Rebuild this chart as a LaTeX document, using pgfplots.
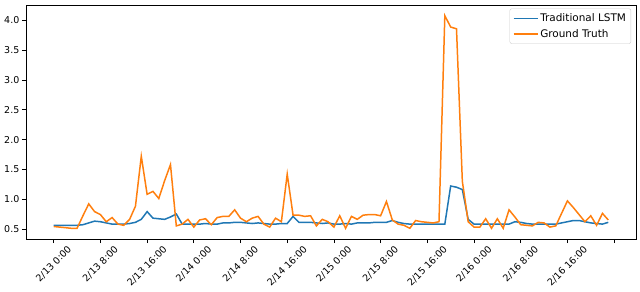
\documentclass[border=0pt]{standalone}
\usepackage{fontspec}
\setmainfont{DejaVu Sans}
\usepackage{graphicx}
\usepackage{pgfplots}
\pgfplotsset{compat=1.18}
\definecolor{mplblue}{HTML}{1F77B4}
\definecolor{mplorange}{HTML}{FF7F0E}
\begin{document}
\begin{tikzpicture}
\path[use as bounding box] (-26bp,-53bp) rectangle (614bp,239bp);
\begin{axis}[
  at={(0,0)}, anchor=south west,
  scale only axis,
  width=610bp, height=234bp,
  xmin=-4.75, xmax=99.75,
  ymin=0.33, ymax=4.26,
  axis line style={line width=0.9pt},
  tick align=outside,
  xtick pos=bottom, ytick pos=left,
  major tick length=4bp,
  tick style={black, line width=0.7pt},
  xtick={0,8,16,24,32,40,48,56,64,72,80,88,96},
  xticklabels={\rotatebox{45}{2/13 0:00},\rotatebox{45}{2/13 8:00},\rotatebox{45}{2/13 16:00},\rotatebox{45}{2/14 0:00},\rotatebox{45}{2/14 8:00},\rotatebox{45}{2/14 16:00},\rotatebox{45}{2/15 0:00},\rotatebox{45}{2/15 8:00},\rotatebox{45}{2/15 16:00},\rotatebox{45}{2/16 0:00},\rotatebox{45}{2/16 8:00},\rotatebox{45}{2/16 16:00},{}},
  xticklabel style={anchor=north, font=\fontsize{9.5}{11}\selectfont, inner sep=2bp},
  ytick={0.5,1.0,1.5,2.0,2.5,3.0,3.5,4.0},
  yticklabel style={font=\fontsize{9.5}{11}\selectfont, inner sep=2.5bp},
  /pgf/number format/assume math mode=true,
  /pgf/number format/fixed, /pgf/number format/fixed zerofill, /pgf/number format/precision=1,
  legend style={at={(0.992,0.985)}, anchor=north east, draw=black!20, rounded corners=2pt,
    font=\fontsize{10.5}{12}\selectfont, row sep=2pt, inner sep=3pt},
  legend cell align=left,
  legend image code/.code={\draw[#1] (0bp,0bp) -- (24bp,0bp);},
]
\addplot[mplblue, line width=1.5pt] coordinates {
(0,0.56)(1,0.56)(2,0.56)(3,0.56)(4,0.56)(5,0.57)(6,0.60)(7,0.63)(8,0.62)(9,0.60)
(10,0.58)(11,0.58)(12,0.58)(13,0.59)(14,0.61)(15,0.66)(16,0.79)(17,0.68)(18,0.67)(19,0.66)
(20,0.70)(21,0.75)(22,0.58)(23,0.58)(24,0.58)(25,0.58)(26,0.59)(27,0.58)(28,0.58)(29,0.60)
(30,0.60)(31,0.61)(32,0.61)(33,0.60)(34,0.59)(35,0.60)(36,0.59)(37,0.58)(38,0.58)(39,0.59)
(40,0.59)(41,0.71)(42,0.61)(43,0.61)(44,0.61)(45,0.60)(46,0.59)(47,0.60)(48,0.58)(49,0.58)
(50,0.59)(51,0.58)(52,0.60)(53,0.60)(54,0.60)(55,0.61)(56,0.61)(57,0.61)(58,0.64)(59,0.61)
(60,0.59)(61,0.58)(62,0.58)(63,0.58)(64,0.58)(65,0.58)(66,0.58)(67,0.58)(68,1.22)(69,1.20)
(70,1.16)(71,0.66)(72,0.58)(73,0.58)(74,0.58)(75,0.58)(76,0.58)(77,0.58)(78,0.58)(79,0.62)
(80,0.61)(81,0.59)(82,0.58)(83,0.58)(84,0.58)(85,0.58)(86,0.58)(87,0.60)(88,0.62)(89,0.64)
(90,0.64)(91,0.62)(92,0.60)(93,0.59)(94,0.58)(95,0.61)
};
\addlegendentry{Traditional LSTM}
\addplot[mplorange, line width=1.5pt] coordinates {
(0,0.54)(1,0.53)(2,0.52)(3,0.51)(4,0.51)(5,0.72)(6,0.92)(7,0.79)(8,0.74)(9,0.62)
(10,0.69)(11,0.58)(12,0.56)(13,0.66)(14,0.88)(15,1.72)(16,1.08)(17,1.13)(18,1.01)(19,1.31)
(20,1.58)(21,0.55)(22,0.58)(23,0.66)(24,0.53)(25,0.65)(26,0.67)(27,0.57)(28,0.69)(29,0.71)
(30,0.71)(31,0.82)(32,0.68)(33,0.62)(34,0.68)(35,0.71)(36,0.58)(37,0.53)(38,0.68)(39,0.62)
(40,1.42)(41,0.73)(42,0.73)(43,0.71)(44,0.72)(45,0.55)(46,0.66)(47,0.62)(48,0.53)(49,0.72)
(50,0.51)(51,0.71)(52,0.66)(53,0.73)(54,0.74)(55,0.74)(56,0.72)(57,0.96)(58,0.65)(59,0.58)
(60,0.56)(61,0.51)(62,0.64)(63,0.62)(64,0.61)(65,0.60)(66,0.62)(67,4.08)(68,3.89)(69,3.86)
(70,1.30)(71,0.62)(72,0.53)(73,0.53)(74,0.67)(75,0.51)(76,0.67)(77,0.51)(78,0.82)(79,0.70)
(80,0.57)(81,0.56)(82,0.55)(83,0.61)(84,0.60)(85,0.53)(86,0.55)(87,0.76)(88,0.97)(89,0.86)
(90,0.74)(91,0.62)(92,0.72)(93,0.56)(94,0.76)(95,0.65)
};
\addlegendentry{Ground Truth}
\end{axis}
\end{tikzpicture}
\end{document}
